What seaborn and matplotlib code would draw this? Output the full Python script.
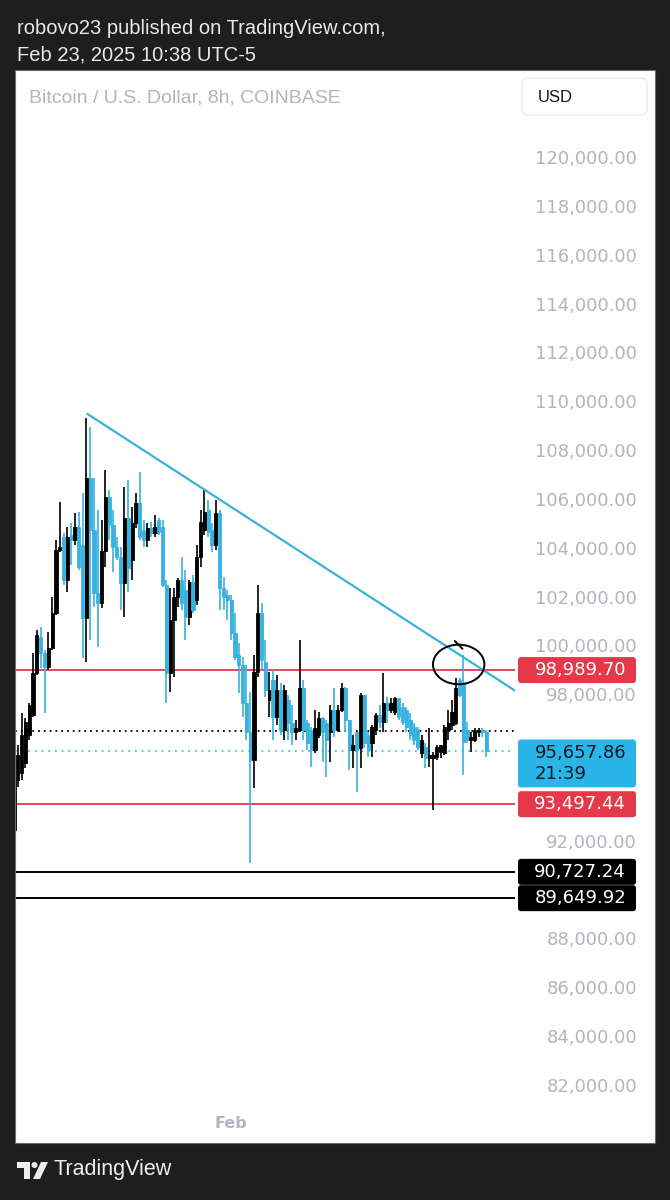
import pandas as pd
import matplotlib
matplotlib.use("Agg")
import matplotlib.pyplot as plt
import matplotlib.dates as mdates
from matplotlib.patches import FancyBboxPatch, Arc, Polygon, Circle, Rectangle
from matplotlib.transforms import IdentityTransform, blended_transform_factory
import seaborn as sns

# ── Data: BTC/USD 8h candles, Coinbase ───────────────────────────────────────
FIRST_CANDLE = "2025-01-13 00:00"
OPEN = [
    92440, 94490, 94780, 95190, 96330, 97150, 98870, 100350, 99690, 99110,
    99890, 101330, 103910, 104440, 102680, 104530, 104320, 104850, 104120, 101120,
    106860, 104730, 102150, 101740, 103870, 106080, 104930, 104030, 103620, 102560,
    105220, 103500, 105010, 105830, 104730, 104320, 104810, 104610, 105140, 104850,
    102480, 98870, 101040, 101980, 102680, 102270, 101160, 102600, 101860, 103620,
    104730, 105550, 104730, 104120, 105420, 102350, 102070, 101860, 100510, 99610,
    99200, 97650, 96450, 95310, 98910, 101330, 99320, 97770, 98580, 97070,
    98170, 96540, 97770, 96820, 96460, 96540, 98260, 96820, 96540, 95720,
    96330, 97030, 96820, 96450, 97360, 96540, 97360, 98260, 96950, 95720,
    96450, 95800, 97970, 96330, 96000, 96540, 97150, 96870, 97650, 97360,
    97280, 97850, 97480, 97360, 96950, 96660, 96540, 95600, 95840, 95390,
    95390, 95430, 95640, 95600, 96540, 96750, 96820, 98580, 98460, 96540,
    96130, 96130, 96450, 96540, 96460,
]
HIGH = [
    95310, 95930, 97240, 97030, 97650, 99690, 100630, 100750, 99810, 100550,
    101980, 104320, 105870, 104610, 104850, 105010, 105420, 105460, 106240, 109310,
    108940, 106860, 105550, 105140, 107180, 106360, 105550, 104440, 104030, 106490,
    106770, 105680, 106240, 107100, 105140, 105010, 105060, 105340, 105220, 105140,
    102680, 102350, 102350, 102760, 103620, 103090, 102680, 102890, 104120, 105550,
    106360, 105960, 105010, 105960, 105550, 102800, 102270, 102070, 101330, 100100,
    99530, 99200, 98090, 99610, 102480, 101740, 100220, 98910, 98990, 98790,
    98460, 98380, 97970, 97560, 96950, 100220, 98580, 96950, 96660, 97360,
    97280, 97070, 96950, 97560, 98260, 97560, 98460, 98300, 96950, 96330,
    96450, 98050, 97970, 96450, 96750, 97240, 97560, 98870, 97890, 97850,
    97890, 97850, 97650, 97480, 97240, 96820, 96660, 96330, 96000, 96620,
    95640, 95920, 95920, 96750, 97360, 97770, 98670, 98670, 99610, 96870,
    96460, 96620, 96620, 96620, 96540,
]
LOW = [
    92030, 94200, 94490, 94980, 96130, 97070, 98790, 99070, 97240, 98990,
    99810, 101250, 103830, 102480, 102190, 103300, 104120, 103090, 99480, 99320,
    100220, 101570, 99940, 101530, 103210, 104320, 103010, 103500, 101450, 101160,
    102190, 102680, 104810, 104320, 104030, 104030, 104440, 104440, 104530, 102400,
    97650, 98090, 98710, 101570, 101450, 100220, 100840, 101330, 101660, 103210,
    104530, 104440, 103830, 103910, 101450, 101450, 101040, 100220, 99400, 98050,
    97070, 96130, 91090, 94160, 98710, 98990, 97890, 97070, 96130, 96750,
    96330, 96130, 96130, 95920, 96130, 96460, 96130, 95720, 95020, 95600,
    96210, 95230, 94610, 95230, 96250, 96460, 97280, 96460, 94900, 94980,
    94000, 94980, 95800, 95430, 95430, 96330, 96620, 96460, 96820, 97240,
    97150, 96950, 96750, 96460, 96130, 95920, 95720, 95390, 94980, 95020,
    93260, 95310, 95390, 95520, 96130, 96540, 96750, 97890, 94690, 96000,
    95640, 96050, 96250, 96250, 95430,
]
CLOSE = [
    94490, 95520, 96330, 96870, 97560, 98870, 100430, 99690, 99110, 99890,
    101330, 103910, 104030, 102680, 104440, 104320, 104850, 103210, 101120, 106860,
    104730, 102150, 101740, 103870, 106080, 104930, 104030, 103620, 102560, 105220,
    103170, 105010, 105830, 104440, 104320, 104810, 104610, 104850, 104650, 102480,
    98870, 101040, 101980, 102680, 101740, 101160, 102600, 101450, 103620, 105060,
    105460, 104650, 104120, 105420, 102350, 101980, 101860, 100510, 99530, 99200,
    97650, 96450, 95310, 98910, 101330, 99400, 98170, 98170, 97070, 98170,
    96540, 98170, 96820, 96460, 96620, 98260, 96540, 96000, 95720, 96620,
    97030, 96450, 96130, 97360, 96540, 97360, 98260, 96950, 95720, 95920,
    95720, 97970, 96000, 95720, 96660, 97150, 96870, 97650, 97360, 97650,
    97850, 97070, 96870, 96660, 96330, 96130, 95840, 96130, 95390, 95510,
    95510, 95840, 95920, 96660, 96820, 97280, 98260, 97970, 96050, 96130,
    96250, 96540, 96540, 96450, 95660,
]

# horizontal levels drawn on the chart
RESISTANCE = 98989.70
SUPPORT = 93497.44
LOWER_LEVELS = [90727.24, 89649.92]
PREV_CLOSE = 96500
LAST_PRICE = 95657.86
COUNTDOWN = "21:39"

# descending trendline and hand-drawn circle (time, price)
TREND_TIME = ["2025-01-19 10:00", "2025-02-26 04:00"]
TREND_PRICE = [109480, 98050]
CIRCLE_TIME = "2025-02-20 22:00"
CIRCLE_PRICE = 99220
CIRCLE_DAYS = 4.5
CIRCLE_SPAN = 1620
TAIL_TIME = ["2025-02-20 14:00", "2025-02-21 06:00"]
TAIL_PRICE = [100180, 99860]

YTICKS = list(range(82000, 120001, 2000))
HIDDEN_TICKS = [96000, 94000, 90000]   # covered by the price tags
MONTH_TICK = "2025-02-01"

# ── Colours ──────────────────────────────────────────────────────────────────
BG = "#1e1e1e"
UP = "#000000"
DOWN = "#38b2de"
RED = "#e5394b"
BLUE_TAG = "#2ab5e8"
GRAY = "#b2b5be"

W, H = 670, 1200


def img(x, y):
    """Screenshot pixel (top-left origin) -> display pixel."""
    return x, H - y


sns.set_theme(style="white")
plt.rcParams["font.family"] = ["DejaVu Sans"]

fig = plt.figure(figsize=(W / 100, H / 100), dpi=100, facecolor=BG)

# white chart panel (fill behind, thin frame on top)
fig.add_artist(Rectangle((15 / W, 57 / H), 640 / W, 1073 / H,
                         transform=fig.transFigure, facecolor="white",
                         edgecolor="none", zorder=-1))
fig.add_artist(Rectangle((15 / W, 57 / H), 640 / W, 1073 / H,
                         transform=fig.transFigure, facecolor="none",
                         edgecolor="#6a6a6a", lw=0.8, zorder=10))

ax = fig.add_axes([15 / W, 57 / H, 500 / W, 1073 / H])
ax.set_facecolor("white")
for s in ax.spines.values():
    s.set_visible(False)

dates = pd.date_range(FIRST_CANDLE, periods=len(OPEN), freq="8h")
x = mdates.date2num(dates)
df = pd.DataFrame({"x": x, "o": OPEN, "h": HIGH, "l": LOW, "c": CLOSE})
df["color"] = [UP if c >= o else DOWN for o, c in zip(df.o, df.c)]
df["bottom"] = df[["o", "c"]].min(axis=1)
df["body"] = (df.c - df.o).abs().clip(lower=45)

# levels
ax.axhline(RESISTANCE, color=RED, lw=1.3, zorder=1)
ax.axhline(SUPPORT, color=RED, lw=1.3, zorder=1)
for lv in LOWER_LEVELS:
    ax.axhline(lv, color="black", lw=1.4, zorder=1)
ax.axhline(PREV_CLOSE, color="black", lw=1.3, ls=(0, (1, 2.2)), zorder=1)
ax.axhline(LAST_PRICE, color=BLUE_TAG, lw=1.2, ls=(0, (1, 3)), zorder=1)

# candles
ax.vlines(df.x, df.l, df.h, colors=df.color, lw=1.2, zorder=2)
ax.bar(df.x, df.body, bottom=df.bottom, width=0.28, color=df.color,
       edgecolor=df.color, linewidth=0.6, zorder=3)

# trendline
tx = mdates.date2num(pd.to_datetime(TREND_TIME))
sns.lineplot(x=tx, y=TREND_PRICE, ax=ax, color=DOWN, lw=1.6, zorder=4)

# hand-drawn circle
cx = mdates.date2num(pd.Timestamp(CIRCLE_TIME))
ax.add_patch(Arc((cx, CIRCLE_PRICE), CIRCLE_DAYS, CIRCLE_SPAN, angle=0,
                 theta1=-300, theta2=45, color="black", lw=1.4, zorder=5))
ax.plot(mdates.date2num(pd.to_datetime(TAIL_TIME)), TAIL_PRICE,
        color="black", lw=1.4, zorder=5)

ax.set_xlim(x[0] + 2 / 24, x[-1] + 60.3 / 24)
ax.set_ylim(79624, 123562)

# price scale on the right, right-aligned against the panel edge
ax.yaxis.tick_right()
ax.set_yticks(YTICKS)
ax.set_yticklabels(["" if v in HIDDEN_TICKS else f"{v:,.2f}" for v in YTICKS])
ax.tick_params(axis="y", length=0, pad=87.8, labelsize=13, labelcolor=GRAY)
for t in ax.get_yticklabels():
    t.set_horizontalalignment("right")
ax.set_xticks([])
ax.text(mdates.date2num(pd.Timestamp(MONTH_TICK)), 0.0186, "Feb",
        transform=blended_transform_factory(ax.transData, ax.transAxes),
        ha="center", va="center", fontsize=11.5, fontweight="bold", color=GRAY)

ax.text(14 / 500, 1 - 28 / 1073, "Bitcoin / U.S. Dollar, 8h, COINBASE",
        transform=ax.transAxes, ha="left", va="center", fontsize=14,
        color=GRAY, family=["Liberation Sans"])


def price_tag(price, text, face, tcolor, above=13, below=13):
    y = ax.transData.transform((0, price))[1]
    fig.add_artist(FancyBboxPatch((518, y - below), 118, above + below,
                                  boxstyle="round,pad=0,rounding_size=3",
                                  transform=IdentityTransform(),
                                  facecolor=face, edgecolor="none", zorder=5))
    fig.text(626, y + (above - below) / 2, text, transform=IdentityTransform(),
             ha="right", va="center", fontsize=13, color=tcolor,
             multialignment="left", linespacing=1.2, zorder=6)


price_tag(RESISTANCE, f"{RESISTANCE:,.2f}", RED, "white")
price_tag(LAST_PRICE, f"{LAST_PRICE:,.2f}\n{COUNTDOWN}", BLUE_TAG, "#131722",
          above=12, below=36)
price_tag(SUPPORT, f"{SUPPORT:,.2f}", RED, "white")
for lv in LOWER_LEVELS:
    price_tag(lv, f"{lv:,.2f}", "black", "white")

# currency button
fig.add_artist(FancyBboxPatch(img(522, 115), 125, 37,
                              boxstyle="round,pad=0,rounding_size=6",
                              transform=IdentityTransform(), facecolor="white",
                              edgecolor="#ececec", lw=1, zorder=5))
fig.text(*img(538, 97), "USD", transform=IdentityTransform(), ha="left",
         va="center", fontsize=12, color="#131722", zorder=6,
         family=["Liberation Sans"])

# header / footer
fig.text(*img(17, 28), "robovo23 published on TradingView.com,",
         transform=IdentityTransform(), ha="left", va="center", fontsize=14.5,
         color="#e8e8e8", family=["Liberation Sans"])
fig.text(*img(17, 55), "Feb 23, 2025 10:38 UTC-5",
         transform=IdentityTransform(), ha="left", va="center", fontsize=14.5,
         color="#e8e8e8", family=["Liberation Sans"])
fig.text(*img(53, 1170), "TradingView", transform=IdentityTransform(),
         ha="left", va="center", fontsize=15.5, color="#eeeeee",
         family=["Liberation Sans"])
fig.add_artist(Polygon([img(17, 1162), img(30, 1162), img(30, 1179),
                        img(24, 1179), img(24, 1168), img(17, 1168)],
                       closed=True, transform=IdentityTransform(),
                       facecolor="#eeeeee", edgecolor="none"))
fig.add_artist(Circle(img(34.5, 1165), 3, transform=IdentityTransform(),
                      facecolor="#eeeeee", edgecolor="none"))
fig.add_artist(Polygon([img(41, 1162), img(48, 1162), img(40, 1179),
                        img(33, 1179)], closed=True,
                       transform=IdentityTransform(), facecolor="#eeeeee",
                       edgecolor="none"))

fig.savefig("out.png", dpi=100, facecolor=BG)
